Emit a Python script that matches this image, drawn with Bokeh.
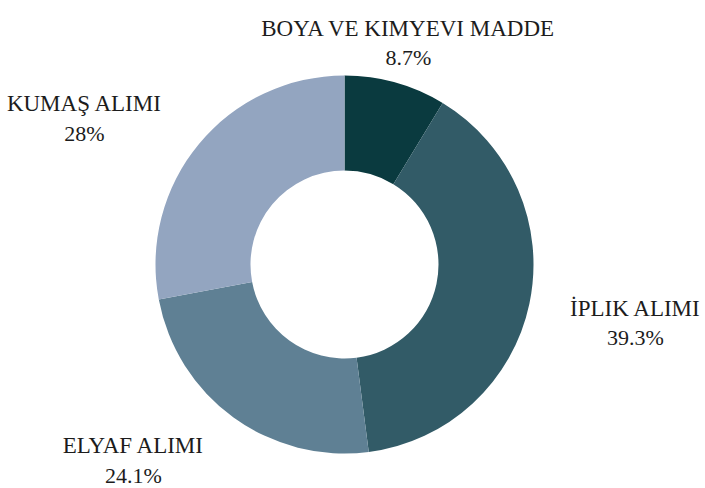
import math
from bokeh.plotting import figure
from bokeh.models import Range1d, ColumnDataSource
from bokeh.core.properties import value
from bokeh.embed import file_html
from bokeh.resources import INLINE

# ---- data ----
categories = ["BOYA VE KIMYEVI MADDE", "İPLIK ALIMI", "ELYAF ALIMI", "KUMAŞ ALIMI"]
shares = [8.7, 39.3, 24.1, 28.0]
pct_labels = ["8.7%", "39.3%", "24.1%", "28%"]
colors = ["#0a3a3f", "#325b67", "#5f8094", "#93a5c0"]

# ---- layout (pixel-like data units) ----
W, H = 705, 488
cx, cy = 344, 224
r_in, r_out = 94, 189
# label block centre x and baselines of the two lines
label_x = [408, 635, 133, 84]
name_y = [460, 180, 43, 385]
pct_y = [431, 151, 13, 355]

total = sum(shares)
starts, ends = [], []
cum = 0.0
for s in shares:
    starts.append(math.pi / 2 - 2 * math.pi * cum / total)
    cum += s
    ends.append(math.pi / 2 - 2 * math.pi * cum / total)

src = ColumnDataSource(dict(
    cat=categories, pct=pct_labels, color=colors,
    start=starts, end=ends,
    lx=label_x, ny=name_y, py=pct_y,
))

p = figure(width=W, height=H, output_backend="svg", toolbar_location=None,
           x_range=Range1d(0, W), y_range=Range1d(0, H),
           x_axis_type=None, y_axis_type=None, min_border=0,
           background_fill_color="white", border_fill_color="white")
p.outline_line_color = None
p.grid.visible = False

p.annular_wedge(x=cx, y=cy, inner_radius=r_in, outer_radius=r_out,
                start_angle="start", end_angle="end", direction="clock",
                fill_color="color", line_color=None, source=src)

p.text(x="lx", y="ny", text="cat", source=src,
       text_font=value("Liberation Serif"), text_font_size="23px",
       text_color="#1c1c1c", text_align="center", text_baseline="alphabetic")
p.text(x="lx", y="py", text="pct", source=src,
       text_font=value("Liberation Serif"), text_font_size="22px",
       text_color="#1c1c1c", text_align="center", text_baseline="alphabetic")

open("out.html", "w").write(file_html(p, INLINE))
